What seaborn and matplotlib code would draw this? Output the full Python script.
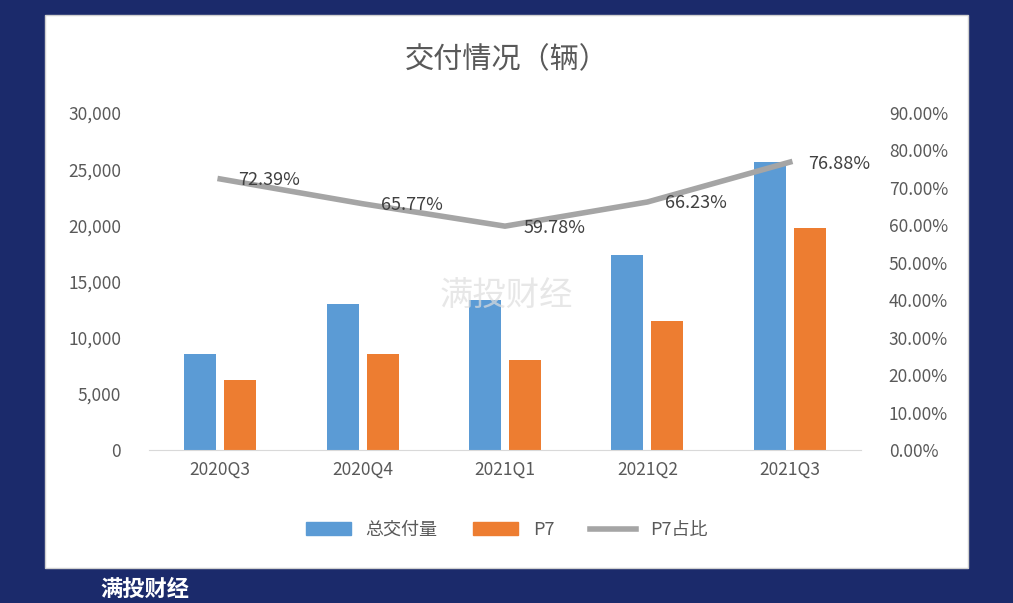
import matplotlib
matplotlib.use("Agg")
import matplotlib.pyplot as plt
import matplotlib.patches as mpatches
import seaborn as sns
import pandas as pd
from matplotlib.ticker import FuncFormatter

quarters = ["2020Q3", "2020Q4", "2021Q1", "2021Q2", "2021Q3"]
total = [8578, 12964, 13340, 17398, 25666]
p7 = [6210, 8527, 7975, 11522, 19731]
ratio = [72.39, 65.77, 59.78, 66.23, 76.88]

plt.rcParams["font.family"] = "sans-serif"
plt.rcParams["font.sans-serif"] = ["Noto Sans CJK SC", "Noto Sans CJK JP", "DejaVu Sans"]
fig = plt.figure(figsize=(10.13, 6.03), dpi=100)
fig.patch.set_facecolor("#1b2a6b")
fig.patches.append(mpatches.Rectangle((45/1013, 1-568/603), 923/1013, 553/603,
                    transform=fig.transFigure, facecolor="white", edgecolor="#d0d0d0", zorder=-10))
fig.text(100/1013, 0.004, "满投财经", color="white", fontsize=16, fontweight="bold", va="bottom")

ax = fig.add_axes([149/1013, 1-450/603, 712/1013, 337/603])
ax.set_facecolor("none")
df = pd.DataFrame({"q": quarters*2, "v": total+p7, "s": ["总交付量"]*5 + ["P7"]*5})
sns.barplot(data=df, x="q", y="v", hue="s", palette=["#5B9BD5", "#ED7D31"], width=0.56,
            ax=ax, legend=False, saturation=1)
for p in ax.patches:
    c = p.get_x() + p.get_width()/2
    w = 0.225
    p.set_width(w); p.set_x(c - w/2)
ax.set_ylim(0, 30000); ax.set_xlim(-0.5, 4.5)
ax.set_yticks(range(0, 30001, 5000))
ax.yaxis.set_major_formatter(FuncFormatter(lambda v, _: f"{int(v):,}"))
ax.set_xlabel(""); ax.set_ylabel("")
for s in ["top", "right", "left"]:
    ax.spines[s].set_visible(False)
ax.spines["bottom"].set_color("#d9d9d9")
ax.tick_params(axis="y", length=0, labelsize=12.5, colors="#595959", pad=20)
ax.tick_params(axis="x", length=0, labelsize=12.5, colors="#595959", pad=8)

ax2 = ax.twinx()
sns.lineplot(x=list(range(5)), y=ratio, ax=ax2, color="#A5A5A5", linewidth=4)
ax2.set_ylim(0, 90); ax2.set_xlim(-0.5, 4.5)
ax2.set_yticks(range(0, 91, 10))
ax2.yaxis.set_major_formatter(FuncFormatter(lambda v, _: f"{v:.2f}%"))
for s in ["top", "right", "left", "bottom"]:
    ax2.spines[s].set_visible(False)
ax2.tick_params(length=0, labelsize=12.5, colors="#595959", pad=20)
for i, r in enumerate(ratio):
    ax2.annotate(f"{r:.2f}%", (i, r), xytext=(13, -1), textcoords="offset points",
                 ha="left", va="center", fontsize=13, color="#404040")

fig.text(0.5, 1-60/603, "交付情况（辆）", ha="center", va="center", fontsize=21, color="#595959")
fig.text(0.5, 1-295/603, "满投财经", ha="center", va="center", fontsize=24, color="#dddddd", alpha=0.7)

handles = [mpatches.Patch(color="#5B9BD5", label="总交付量"),
           mpatches.Patch(color="#ED7D31", label="P7"),
           plt.Line2D([], [], color="#A5A5A5", lw=4, label="P7占比")]
fig.legend(handles=handles, loc="center", bbox_to_anchor=(0.5, 1-530/603), ncol=3,
           frameon=False, fontsize=13, labelcolor="#595959", handlelength=2.5, columnspacing=2)
fig.savefig("out.png", dpi=100, facecolor=fig.get_facecolor())
